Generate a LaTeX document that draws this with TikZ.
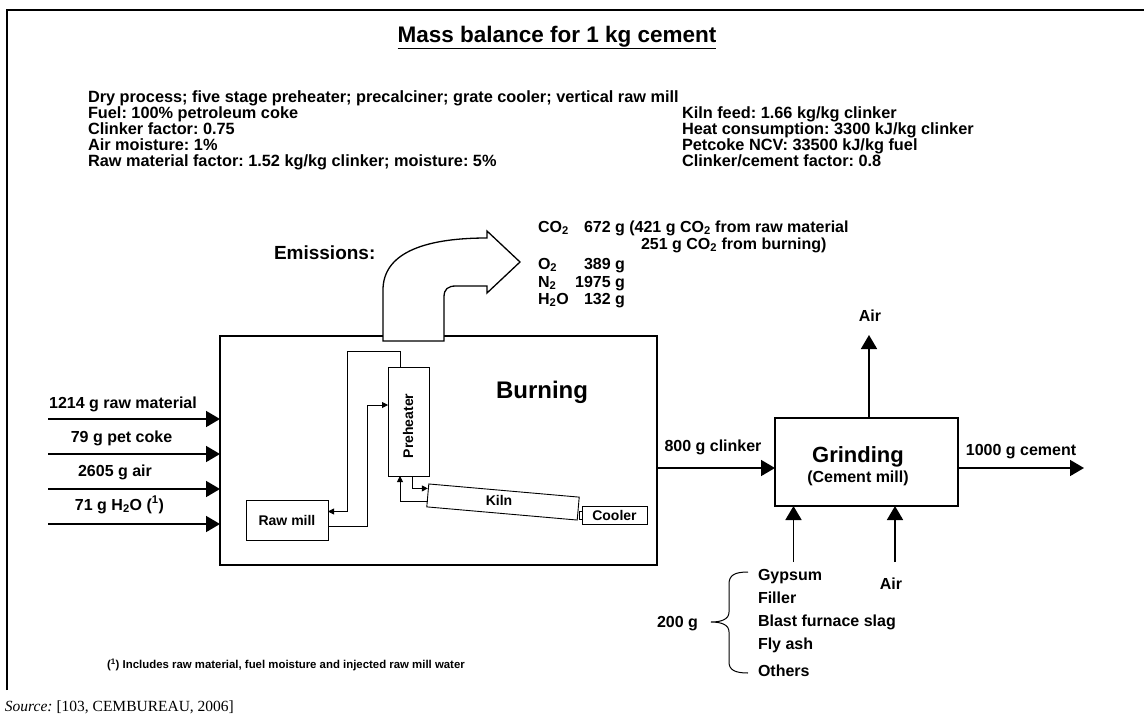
\documentclass[tikz,border=0pt]{standalone}
\usepackage{fontspec}
\setmainfont{Liberation Sans}
\newfontfamily\srcfont{Liberation Serif}
\usetikzlibrary{arrows.meta,calc}
\frenchspacing
\begin{document}
\begin{tikzpicture}[x=1pt,y=-1pt,
  every node/.style={inner sep=0pt, outer sep=0pt},
  lbl/.style={font=\bfseries\fontsize{16}{18}\selectfont},
  hdr/.style={font=\bfseries\fontsize{16.3}{16}\selectfont, anchor=base west},
  sml/.style={font=\bfseries\fontsize{14}{16}\selectfont},
  boxsty/.style={draw, line width=1.7pt},
  inbox/.style={draw, line width=0.9pt},
  bigarr/.style={line width=1.7pt, -{Triangle[length=14pt,width=16pt]}},
  smallarr/.style={line width=0.9pt, -{Triangle[length=6pt,width=6pt]}},
  framesty/.style={line width=2pt}
]
\useasboundingbox (0,0) rectangle (1144,718);
% frame
\draw[framesty] (7,690) -- (7,10) -- (1144,10);

% title
\node[font=\bfseries\fontsize{22.5}{26}\selectfont, anchor=base] (title) at (557,42) {\underline{Mass balance for 1 kg cement}};

% header
\node[hdr] (h1) at (88,102) {Dry process; five stage preheater; precalciner; grate cooler; vertical raw mill};
\node[hdr] (h2) at (88,118) {Fuel: 100\% petroleum coke};
\node[hdr] (h3) at (88,134) {Clinker factor: 0.75};
\node[hdr] (h4) at (88,150) {Air moisture: 1\%};
\node[hdr] (h5) at (88,166) {Raw material factor: 1.52 kg/kg clinker; moisture: 5\%};
\node[hdr] (r1) at (682,118) {Kiln feed: 1.66 kg/kg clinker};
\node[hdr] (r2) at (682,134) {Heat consumption: 3300 kJ/kg clinker};
\node[hdr] (r3) at (682,150) {Petcoke NCV: 33500 kJ/kg fuel};
\node[hdr] (r4) at (682,166) {Clinker/cement factor: 0.8};

% emissions
\node[font=\bfseries\fontsize{19}{22}\selectfont, anchor=base west] (emis) at (274,259) {Emissions:};
\node[lbl, anchor=base west] (co2) at (538,232) {CO\textsubscript{2}};
\node[lbl, anchor=base west] (co2v) at (584,232) {672 g (421 g CO\textsubscript{2} from raw material};
\node[lbl, anchor=base west] (co2b) at (641,249) {251 g CO\textsubscript{2} from burning)};
\node[lbl, anchor=base west] (o2) at (538,269) {O\textsubscript{2}};
\node[lbl, anchor=base east] (o2v) at (625,269) {389 g};
\node[lbl, anchor=base west] (n2) at (538,287) {N\textsubscript{2}};
\node[lbl, anchor=base east] (n2v) at (625,287) {1975 g};
\node[lbl, anchor=base west] (h2o) at (538,304) {H\textsubscript{2}O};
\node[lbl, anchor=base east] (h2ov) at (625,304) {132 g};

% burning box
\node[boxsty, minimum width=437pt, minimum height=229pt] (burn) at (438.5,450.5) {};
\node[font=\bfseries\fontsize{24}{28}\selectfont, anchor=base] (burntxt) at (542,398) {Burning};

% big emission arrow
\draw[line width=1.3pt, fill=white] (383,341) -- (383,290)
  .. controls (383,255) and (420,238) .. (487,238) -- (487,231) -- (520,262) -- (487,293) -- (487,286)
  -- (456,286) .. controls (448,286) and (444,289) .. (444,297) -- (444,341) -- cycle;

% inputs
\coordinate (s1) at (48,419);
\coordinate (s2) at (48,454);
\coordinate (s3) at (48,489);
\coordinate (s4) at (48,524);
\draw[bigarr] (s1) -- (s1 -| burn.west);
\draw[bigarr] (s2) -- (s2 -| burn.west);
\draw[bigarr] (s3) -- (s3 -| burn.west);
\draw[bigarr] (s4) -- (s4 -| burn.west);
\node[lbl, anchor=base] (l1) at (123,408) {1214 g raw material};
\node[lbl, anchor=base] (l2) at (121.5,442) {79 g pet coke};
\node[lbl, anchor=base] (l3) at (115,476) {2605 g air};
\node[lbl, anchor=base] (l4) at (119.5,510) {71 g H\textsubscript{2}O (\textsuperscript{1})};

% inner equipment
\node[inbox, minimum width=41pt, minimum height=109pt] (pre) at (408.5,421.5) {};
\node[sml, rotate=90] (pretxt) at (408,426) {Preheater};
\node[inbox, sml, minimum width=82pt, minimum height=40pt] (raw) at (287,520) {Raw mill};
\node[inbox, minimum width=151pt, minimum height=23pt, rotate=-5] (kiln) at (503,502) {};
\node[sml] (kilntxt) at (499,500) {Kiln};
\node[inbox, sml, minimum width=65pt, minimum height=18pt] (cool) at (614.5,515) {Cooler};
\draw[line width=0.6pt] ([xshift=-3pt,yshift=4pt]cool.west) rectangle ([yshift=-4pt]cool.west);

% inner connectors
\draw[smallarr] ([xshift=-8.5pt]pre.north) -- ++(0,-16) -| ([xshift=19.5pt,yshift=8.5pt]raw.east) -- ([yshift=8.5pt]raw.east);
\draw[smallarr] ([yshift=-6.5pt]raw.east) -| ([xshift=-21pt,yshift=16.5pt]pre.west) -- ([yshift=16.5pt]pre.west);
\draw[smallarr] ([xshift=3.5pt]pre.south) |- ([yshift=7pt]kiln.west);
\draw[smallarr] ([yshift=-6.5pt]kiln.west) -| ([xshift=-8.5pt]pre.south);

% grinding
\node[boxsty, minimum width=183pt, minimum height=88pt] (grind) at (866.5,462) {};
\node[font=\bfseries\fontsize{22}{26}\selectfont] (gtxt) at (858,457) {Grinding};
\node[lbl] (gsub) at (858,478) {(Cement mill)};

\coordinate (ck) at ([yshift=-6pt]grind.west);
\draw[bigarr] (burn.east |- ck) -- (ck);
\node[lbl, anchor=base] (cklbl) at (713,451) {800 g clinker};

\coordinate (airtop) at (869,335);
\draw[bigarr] (grind.north -| airtop) -- (airtop);
\node[lbl] (airup) at (870,316) {Air};

\coordinate (cem) at (1084,468);
\draw[bigarr] (grind.east |- cem) -- (cem);
\node[lbl, anchor=base] (cemlbl) at (1021,455) {1000 g cement};

\coordinate (b1) at (793.5,562);
\coordinate (b2) at (895,562);
\draw[bigarr] (b1) -- (b1 |- grind.south);
\draw[bigarr] (b2) -- (b2 |- grind.south);
\node[lbl] (airdn) at (891,584) {Air};

% brace and additives
\draw[line width=1pt] (748,572) .. controls (735,572) and (729,575) .. (729,584) -- (729,612)
  .. controls (729,619) and (722,622) .. (711,622)
  .. controls (722,622) and (729,625) .. (729,632) -- (729,662)
  .. controls (729,670) and (735,673) .. (748,673);
\node[lbl, anchor=base] (g200) at (677.5,627) {200 g};
\node[lbl, anchor=base west] (a1) at (758,580) {Gypsum};
\node[lbl, anchor=base west] (a2) at (758,603) {Filler};
\node[lbl, anchor=base west] (a3) at (758,626) {Blast furnace slag};
\node[lbl, anchor=base west] (a4) at (758,649) {Fly ash};
\node[lbl, anchor=base west] (a5) at (758,676) {Others};

% footnote and source
\node[font=\bfseries\fontsize{11.4}{13}\selectfont, anchor=base west] (fn) at (107,668) {(\textsuperscript{1}) Includes raw material, fuel moisture and injected raw mill water};
\node[font=\srcfont\fontsize{15.5}{18}\selectfont, anchor=base west] (src) at (5,711) {\textit{Source:} [103, CEMBUREAU, 2006]};
\end{tikzpicture}
\end{document}
